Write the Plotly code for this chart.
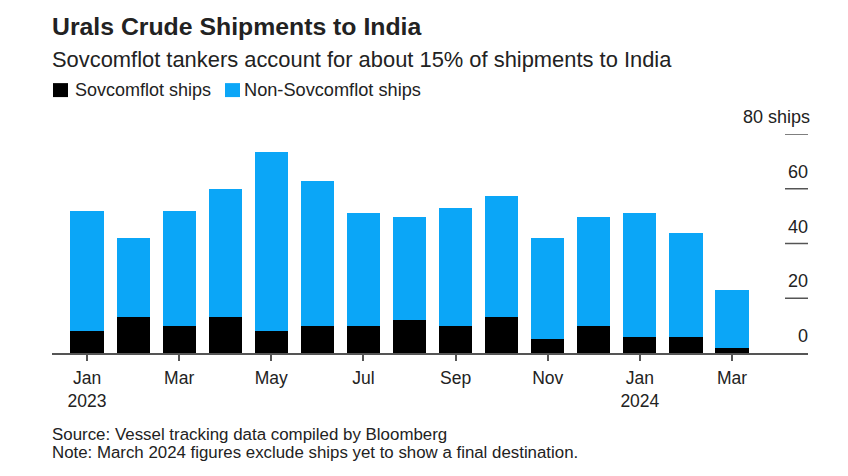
import plotly.graph_objects as go

months = ["Jan 2023","Feb 2023","Mar 2023","Apr 2023","May 2023","Jun 2023","Jul 2023","Aug 2023","Sep 2023","Oct 2023","Nov 2023","Dec 2023","Jan 2024","Feb 2024","Mar 2024"]
sov = [8,13,10,13,8,10,10,12,10,13,5,10,6,6,2]
non = [44,29,42,47,65.5,53,41,37.5,43,44.5,37,39.5,45,38,21]
tick_vals = ["Jan 2023","Mar 2023","May 2023","Jul 2023","Sep 2023","Nov 2023","Jan 2024","Mar 2024"]
tick_text = ["Jan<br>2023","Mar","May","Jul","Sep","Nov","Jan<br>2024","Mar"]
y_vals = [0,20,40,60,80]
y_text = ["0","20","40","60","80 ships"]
BLUE = "#0BA6F7"
INK = "#222222"
font = "Liberation Sans"

# the page adds an 8px body margin, so all page pixels are offset by 8
OFF = 8
PW, PH = 832, 460
L, R, T, B = 52-OFF, 808, 134-OFF, 353.5-OFF
W, H = R-OFF-L, B-T

fig = go.Figure()
fig.add_bar(x=months, y=sov, name="Sovcomflot ships", marker_color="#000000", marker_line_width=0)
fig.add_bar(x=months, y=non, name="Non-Sovcomflot ships", marker_color=BLUE, marker_line_width=0)
fig.update_layout(
    barmode="stack", bargap=0.28, width=PW, height=PH, paper_bgcolor="white", plot_bgcolor="white",
    margin=dict(l=L, r=PW-(R-OFF), t=T, b=PH-B, pad=0), showlegend=False, font=dict(family=font, color=INK),
    xaxis=dict(type="category", categoryorder="array", categoryarray=months, tickmode="array", tickvals=tick_vals, ticktext=tick_text,
               showgrid=False, showline=True, linecolor="#555", linewidth=1.5, ticks="outside", ticklen=6, tickwidth=1.5, tickcolor="#555",
               ticklabelstandoff=2, tickfont=dict(size=17.5, color=INK), range=[-0.76,15.65]),
    yaxis=dict(side="right", range=[0,80], showgrid=False, zeroline=False, ticks="", showticklabels=False),
)
def P(px,py):
    return (px-OFF-L)/W, 1-(py-OFF-T)/H
def txt(px,py,t,s):
    x,y=P(px,py)
    fig.add_annotation(xref="paper",yref="paper",x=x,y=y,text=t,showarrow=False,xanchor="left",yanchor="middle",borderpad=0,font=dict(size=s,color=INK))
for v,t in zip(y_vals,y_text):
    fig.add_annotation(xref="paper", yref="y", x=P(811 if v == 80 else 809,0)[0], y=v, text=t, showarrow=False, xanchor="right", yanchor="middle", yshift=17, borderpad=0, font=dict(size=18,color=INK))
    if v:
        fig.add_shape(type="line", xref="paper", yref="y", x0=P(785,0)[0], x1=1, y0=v, y1=v, line=dict(color="#555", width=1.5))
for px,py,t,s in [(51,26,"<b>Urals Crude Shipments to India</b>",24.8),
                  (51,59,"Sovcomflot tankers account for about 15% of shipments to India",21.9),
                  (74,90,"Sovcomflot ships",18),(243,90,"Non-Sovcomflot ships",18.2),
                  (51,435,"Source: Vessel tracking data compiled by Bloomberg",16.9),
                  (51,453,"Note: March 2024 figures exclude ships yet to show a final destination.",16.85)]:
    txt(px,py,t,s)
for px,c in [(53,"#000"),(225,BLUE)]:
    x0,y0=P(px,83); x1,y1=P(px+15,97)
    fig.add_shape(type="rect",xref="paper",yref="paper",x0=x0,x1=x1,y0=y0,y1=y1,fillcolor=c,line_width=0)
fig.write_html("out.html")
